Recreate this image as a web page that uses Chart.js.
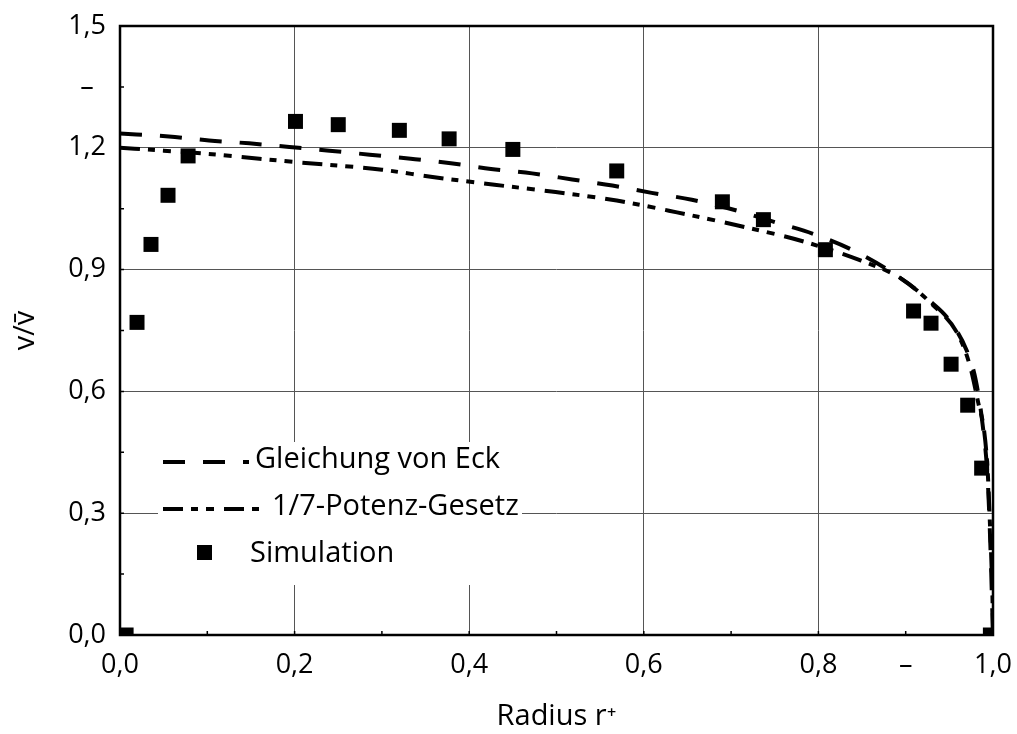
<!DOCTYPE html>
<html lang="de">
<head>
<meta charset="UTF-8">
<title>Geschwindigkeitsprofil</title>
<style>
    body { margin: 0; background: #fff; }
    #wrap { width: 1017px; height: 734px; }
</style>
</head>
<body>
<div id="wrap"><canvas id="profil" width="1017" height="734"></canvas></div>

<script src="https://cdn.jsdelivr.net/npm/chart.js"></script>
<script>
    // Simulation (Punkte)
    const simR = [0.007, 0.0195, 0.0355, 0.055, 0.078, 0.201, 0.250, 0.320, 0.377, 0.450, 0.569, 0.690, 0.737, 0.808, 0.909, 0.929, 0.952, 0.971, 0.987, 0.997];
    const simV = [0.0, 0.770, 0.962, 1.083, 1.180, 1.265, 1.257, 1.243, 1.222, 1.196, 1.143, 1.067, 1.023, 0.949, 0.798, 0.768, 0.667, 0.566, 0.411, 0.0];

    // Gleichung von Eck
    const eckR = [0, 0.056, 0.102, 0.148, 0.194, 0.240, 0.286, 0.333, 0.379, 0.425, 0.472, 0.518, 0.564, 0.609, 0.655, 0.707, 0.750, 0.794, 0.841, 0.887, 0.928, 0.950, 0.970, 0.980, 0.988, 0.994, 0.997, 1.0];
    const eckV = [1.235, 1.228, 1.218, 1.211, 1.202, 1.193, 1.183, 1.173, 1.162, 1.148, 1.137, 1.122, 1.107, 1.089, 1.072, 1.045, 1.017, 0.988, 0.946, 0.889, 0.822, 0.775, 0.700, 0.630, 0.520, 0.380, 0.220, 0.0];

    // 1/7-Potenz-Gesetz
    const potR = [0, 0.05, 0.1, 0.2, 0.3, 0.358, 0.429, 0.499, 0.569, 0.638, 0.709, 0.780, 0.849, 0.894, 0.930, 0.960, 0.974, 0.983, 0.990, 0.994, 0.996, 0.998, 0.9995, 1.0];
    const potV = [1.200, 1.193, 1.185, 1.165, 1.146, 1.128, 1.109, 1.091, 1.070, 1.041, 1.008, 0.971, 0.922, 0.879, 0.815, 0.740, 0.660, 0.573, 0.500, 0.400, 0.300, 0.190, 0.080, 0.0];

    // Achsenteilung
    const radiusTicks = [0, 0.1, 0.2, 0.3, 0.4, 0.5, 0.6, 0.7, 0.8, 0.9, 1.0];
    const radiusLabels = ['0,0', '', '0,2', '', '0,4', '', '0,6', '', '0,8', '–', '1,0'];
    const vTicks = [0, 0.15, 0.3, 0.45, 0.6, 0.75, 0.9, 1.05, 1.2, 1.35, 1.5];
    const vLabels = ['0,0', '', '0,3', '', '0,6', '', '0,9', '', '1,2', '–', '1,5'];

    const pts = (xs, ys) => xs.map((x, i) => ({x: x, y: ys[i]}));

    const tickFont = {family: '"Open Sans", sans-serif', size: 27};
    const titleFont = {family: '"Open Sans", sans-serif', size: 29};
    const legendFont = '29px "Open Sans", sans-serif';
    const gridColor = c => (c.index % 2 === 0 ? '#555' : 'rgba(0,0,0,0)');

    // Beschriftungsueberstand nicht in das Layout einrechnen
    const noOverhang = s => {
        s.paddingLeft = 0;
        s.paddingRight = 0;
        s.paddingTop = 0;
        s.paddingBottom = 0;
    };

    // Rahmen und kleine Teilstriche
    const rahmen = {
        id: 'rahmen',
        afterDraw(chart) {
            const {ctx, chartArea: a, scales} = chart;
            ctx.save();
            ctx.strokeStyle = '#000';
            ctx.lineWidth = 1.5;
            ctx.beginPath();
            scales.x.ticks.forEach(t => {
                const px = scales.x.getPixelForValue(t.value);
                ctx.moveTo(px, a.bottom);
                ctx.lineTo(px, a.bottom - 4);
            });
            scales.y.ticks.forEach(t => {
                const py = scales.y.getPixelForValue(t.value);
                ctx.moveTo(a.left, py);
                ctx.lineTo(a.left + 4, py);
            });
            ctx.stroke();
            ctx.lineWidth = 2.5;
            ctx.strokeRect(a.left, a.top, a.width, a.height);
            ctx.restore();
        }
    };

    // Legende innerhalb der Zeichenflaeche
    const innenLegende = {
        id: 'innenLegende',
        afterDatasetsDraw(chart) {
            const {ctx, chartArea: a} = chart;
            const rows = [
                {base: 167, textX: 135, sampleEnd: 129},
                {base: 120, textX: 152, sampleEnd: 142},
                {base: 73, textX: 130}
            ];
            ctx.save();
            ctx.fillStyle = '#fff';
            ctx.fillRect(a.left + 38, a.bottom - 193, 364, 143);
            chart.data.datasets.forEach((ds, i) => {
                const r = rows[i];
                const y = a.bottom - r.base;
                ctx.fillStyle = '#000';
                ctx.strokeStyle = '#000';
                if (ds.showLine) {
                    ctx.setLineDash(ds.borderDash);
                    ctx.lineWidth = ds.borderWidth;
                    ctx.beginPath();
                    ctx.moveTo(a.left + 43, y - 6);
                    ctx.lineTo(a.left + r.sampleEnd, y - 6);
                    ctx.stroke();
                    ctx.setLineDash([]);
                } else {
                    ctx.fillRect(a.left + 77, y - 17, 15, 15);
                }
                ctx.font = legendFont;
                ctx.textBaseline = 'alphabetic';
                ctx.textAlign = 'left';
                ctx.fillText(ds.label, a.left + r.textX, y);
            });
            ctx.restore();
        }
    };

    new Chart(document.getElementById('profil'), {
        type: 'scatter',
        data: {
            datasets: [{
                label: 'Gleichung von Eck',
                data: pts(eckR, eckV),
                showLine: true,
                borderColor: '#000',
                borderWidth: 4,
                borderDash: [22, 18],
                borderCapStyle: 'butt',
                pointRadius: 0,
                cubicInterpolationMode: 'monotone'
            }, {
                label: '1/7-Potenz-Gesetz',
                data: pts(potR, potV),
                showLine: true,
                borderColor: '#000',
                borderWidth: 4,
                borderDash: [20, 8, 7, 8, 8, 10],
                borderCapStyle: 'butt',
                pointRadius: 0,
                cubicInterpolationMode: 'monotone'
            }, {
                label: 'Simulation',
                data: pts(simR, simV),
                showLine: false,
                pointStyle: 'rect',
                pointRadius: 10.6,
                backgroundColor: '#000',
                borderColor: '#000',
                borderWidth: 0
            }]
        },
        options: {
            responsive: false,
            animation: false,
            events: [],
            layout: {padding: {top: 26, right: 24, left: 0, bottom: 0}},
            plugins: {
                legend: {display: false},
                tooltip: {enabled: false}
            },
            scales: {
                x: {
                    type: 'linear',
                    min: 0,
                    max: 1,
                    afterBuildTicks: s => { s.ticks = radiusTicks.map(v => ({value: v})); },
                    afterFit: s => { s.height = 99; noOverhang(s); },
                    ticks: {
                        autoSkip: false,
                        maxRotation: 0,
                        padding: 14,
                        color: '#000',
                        font: tickFont,
                        callback: (v, i) => radiusLabels[i]
                    },
                    grid: {drawTicks: false, lineWidth: 1, color: gridColor},
                    border: {display: false},
                    title: {
                        display: true,
                        text: 'Radius r⁺',
                        color: '#000',
                        font: titleFont,
                        padding: {top: 6, bottom: 0}
                    }
                },
                y: {
                    type: 'linear',
                    min: 0,
                    max: 1.5,
                    afterBuildTicks: s => { s.ticks = vTicks.map(v => ({value: v})); },
                    afterFit: s => { s.width = 120; noOverhang(s); },
                    ticks: {
                        autoSkip: false,
                        padding: 14,
                        crossAlign: 'center',
                        color: '#000',
                        font: tickFont,
                        callback: (v, i) => vLabels[i]
                    },
                    grid: {drawTicks: false, lineWidth: 1, color: gridColor},
                    border: {display: false},
                    title: {
                        display: true,
                        text: 'v/v\u0304',
                        color: '#000',
                        font: titleFont,
                        padding: {top: 8, bottom: 0}
                    }
                }
            }
        },
        plugins: [rahmen, innenLegende]
    });
</script>
</body>
</html>
